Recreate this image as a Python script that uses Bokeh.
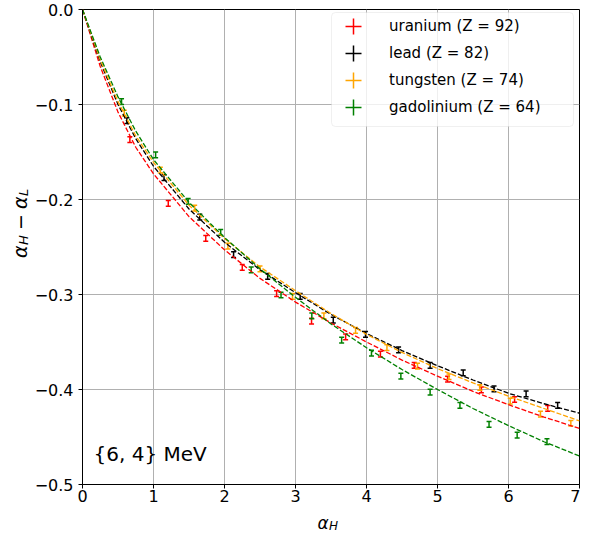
from math import pi
from bokeh.plotting import figure
from bokeh.layouts import row, column
from bokeh.models import (Range1d, FixedTicker, ColumnDataSource, Whisker, TeeHead,
                          Label, Legend, LegendItem, BoxAnnotation)
from bokeh.embed import file_html
from bokeh.resources import INLINE

# ---------------- data ----------------
series_names = ["uranium (Z = 92)", "lead (Z = 82)", "tungsten (Z = 74)", "gadolinium (Z = 64)"]
series_colors = ["red", "black", "orange", "green"]

uranium_x = [0.667, 1.208, 1.736, 2.25, 2.734, 3.226, 3.706, 4.196, 4.672, 5.142, 5.618, 6.086, 6.552]
uranium_y = [-0.137, -0.204, -0.241, -0.2715, -0.299, -0.328, -0.3446, -0.3627, -0.3747, -0.389,
             -0.4003, -0.4105, -0.4198]

lead_x = [0.625, 1.148, 1.652, 2.128, 2.608, 3.066, 3.532, 3.986, 4.452, 4.896, 5.362, 5.796, 6.248, 6.692]
lead_y = [-0.117, -0.177, -0.2186, -0.258, -0.281, -0.302, -0.327, -0.342, -0.3583, -0.3747, -0.3825,
          -0.3993, -0.4047, -0.4167]

tungsten_x = [0.588, 1.096, 1.58, 2.048, 2.5, 2.958, 3.40, 3.846, 4.288, 4.718, 5.162, 5.596, 6.024,
              6.45, 6.878]
tungsten_y = [-0.109, -0.169, -0.209, -0.249, -0.273, -0.302, -0.3224, -0.3378, -0.3559, -0.3753,
              -0.3866, -0.3979, -0.4122, -0.4259, -0.4355]

gadolinium_x = [0.55, 1.03, 1.488, 1.946, 2.376, 2.796, 3.23, 3.65, 4.07, 4.484, 4.896, 5.316, 5.726,
                6.122, 6.542]
gadolinium_y = [-0.097, -0.153, -0.202, -0.2346, -0.274, -0.3005, -0.3224, -0.348, -0.3617, -0.386,
                -0.4027, -0.4167, -0.4368, -0.448, -0.4549]

y_error = 0.003

# dashed fit curves
curve_x = [0, 0.1, 0.25, 0.5, 0.75, 1, 1.5, 2, 2.5, 3, 3.5, 4, 4.5, 5, 5.5, 6, 6.5, 7]
uranium_fit = [0, -0.024, -0.060, -0.108, -0.145, -0.173, -0.218, -0.253, -0.283, -0.308, -0.330,
               -0.350, -0.369, -0.386, -0.402, -0.416, -0.429, -0.441]
lead_fit = [0, -0.022, -0.055, -0.100, -0.136, -0.165, -0.210, -0.245, -0.274, -0.298, -0.321,
            -0.341, -0.359, -0.375, -0.390, -0.404, -0.415, -0.425]
tungsten_fit = [0, -0.021, -0.053, -0.097, -0.133, -0.161, -0.206, -0.241, -0.271, -0.296, -0.320,
                -0.342, -0.361, -0.378, -0.393, -0.407, -0.420, -0.433]
gadolinium_fit = [0, -0.020, -0.050, -0.092, -0.128, -0.158, -0.203, -0.240, -0.273, -0.303, -0.331,
                  -0.356, -0.379, -0.400, -0.420, -0.438, -0.455, -0.470]

x_ticks = [0, 1, 2, 3, 4, 5, 6, 7]
y_ticks = [0.0, -0.1, -0.2, -0.3, -0.4, -0.5]
y_tick_labels = ["0.0", "\u22120.1", "\u22120.2", "\u22120.3", "\u22120.4", "\u22120.5"]
annotation_text = "{6, 4} MeV"

points = [(uranium_x, uranium_y), (lead_x, lead_y), (tungsten_x, tungsten_y), (gadolinium_x, gadolinium_y)]
fits = [uranium_fit, lead_fit, tungsten_fit, gadolinium_fit]

FONT = "DejaVu Sans"

# ---------------- main figure ----------------
p = figure(width=549, height=508, x_range=Range1d(0, 7), y_range=Range1d(-0.5, 0),
           output_backend="svg", toolbar_location=None, title=None,
           min_border_left=48, min_border_right=1, min_border_top=9, min_border_bottom=24)
p.background_fill_color = "white"
p.border_fill_color = "white"
p.outline_line_color = "black"
p.outline_line_width = 1

p.xaxis.ticker = FixedTicker(ticks=x_ticks)
p.yaxis.ticker = FixedTicker(ticks=y_ticks)
p.yaxis.major_label_overrides = {t: l for t, l in zip(y_ticks, y_tick_labels)}
for ax in (p.xaxis, p.yaxis):
    ax.axis_line_color = "black"
    ax.axis_line_width = 1
    ax.major_tick_line_color = "black"
    ax.major_tick_line_width = 1
    ax.major_tick_in = 0
    ax.major_tick_out = 4
    ax.minor_tick_line_color = None
    ax.major_label_text_font = FONT
    ax.major_label_text_font_size = "16px"
    ax.major_label_text_color = "black"
p.xaxis.major_label_standoff = 1
p.yaxis.major_label_standoff = 5

p.xgrid.ticker = FixedTicker(ticks=x_ticks)
p.ygrid.ticker = FixedTicker(ticks=y_ticks)
p.grid.grid_line_color = "#b0b0b0"
p.grid.grid_line_width = 1

# fit curves
for fy, c in zip(fits, series_colors):
    p.line(curve_x, fy, line_color=c, line_width=1.3, line_dash="5 2")

# error bars
legend_renderers = []
for (xs, ys), c in zip(points, series_colors):
    src = ColumnDataSource(dict(x=xs, y=ys,
                                upper=[v + y_error for v in ys],
                                lower=[v - y_error for v in ys]))
    w = Whisker(source=src, base="x", upper="upper", lower="lower", dimension="height",
                line_color=c, line_width=1.5,
                upper_head=TeeHead(size=5, line_color=c, line_width=1.5),
                lower_head=TeeHead(size=5, line_color=c, line_width=1.5))
    p.add_layout(w)
    r = p.scatter("x", "y", source=src, marker="cross", size=0, line_color=c, line_width=1.5)
    legend_renderers.append(r)

# legend frame
box = BoxAnnotation(left=249, right=491, top=472, bottom=358,
                    left_units="screen", right_units="screen", top_units="screen", bottom_units="screen",
                    fill_color="white", fill_alpha=0.8, line_color="#cccccc", line_width=1,
                    border_radius=4)
p.add_layout(box)

# one transparent legend per entry, stacked 27 px apart
legend_bottoms = [438, 411, 384, 357]
for name, r, vy in zip(series_names, legend_renderers, legend_bottoms):
    lg = Legend(items=[LegendItem(label=name, renderers=[r])], location=(251, vy),
                padding=0, spacing=0, glyph_width=40, glyph_height=40, label_height=20,
                label_standoff=16, label_text_font=FONT, label_text_font_size="15px",
                label_text_color="black", background_fill_alpha=0, border_line_alpha=0, margin=0)
    p.add_layout(lg)

# annotation text
p.add_layout(Label(x=11, y=31, x_units="screen", y_units="screen", text=annotation_text,
                   text_font=FONT, text_font_size="20px", text_baseline="middle", text_color="black"))


def label_fig(w, h):
    f = figure(width=w, height=h, x_range=Range1d(0, 1), y_range=Range1d(0, 1),
               x_axis_type=None, y_axis_type=None, output_backend="svg",
               toolbar_location=None, title=None, min_border=0)
    f.outline_line_color = None
    f.background_fill_color = "white"
    f.border_fill_color = "white"
    return f


def lab(f, x, y, t, size, style="italic", angle=0.0, align="left", baseline="alphabetic"):
    f.add_layout(Label(x=x, y=y, x_units="screen", y_units="screen", text=t, angle=angle,
                       text_font=FONT, text_font_size=size, text_font_style=style,
                       text_align=align, text_baseline=baseline, text_color="black"))


# y axis label: alpha_H - alpha_L (rotated)
ylab = label_fig(31, 508)
lab(ylab, 19, 226.5, "\u03b1", "19px", angle=pi / 2)
lab(ylab, 23, 239.5, "H", "13px", angle=pi / 2)
lab(ylab, 19, 262.5, "\u2212", "19px", style="normal", angle=pi / 2, align="center")
lab(ylab, 19, 275.5, "\u03b1", "19px", angle=pi / 2)
lab(ylab, 23, 288.5, "L", "13px", angle=pi / 2)

# x axis label: alpha_H
xlab = label_fig(580, 28)
lab(xlab, 317, 14, "\u03b1", "17px", baseline="middle")
lab(xlab, 328.5, 10.5, "H", "12px", baseline="middle")

layout = column(row(ylab, p, spacing=0), xlab, spacing=0)
open("out.html", "w").write(file_html(layout, INLINE))
